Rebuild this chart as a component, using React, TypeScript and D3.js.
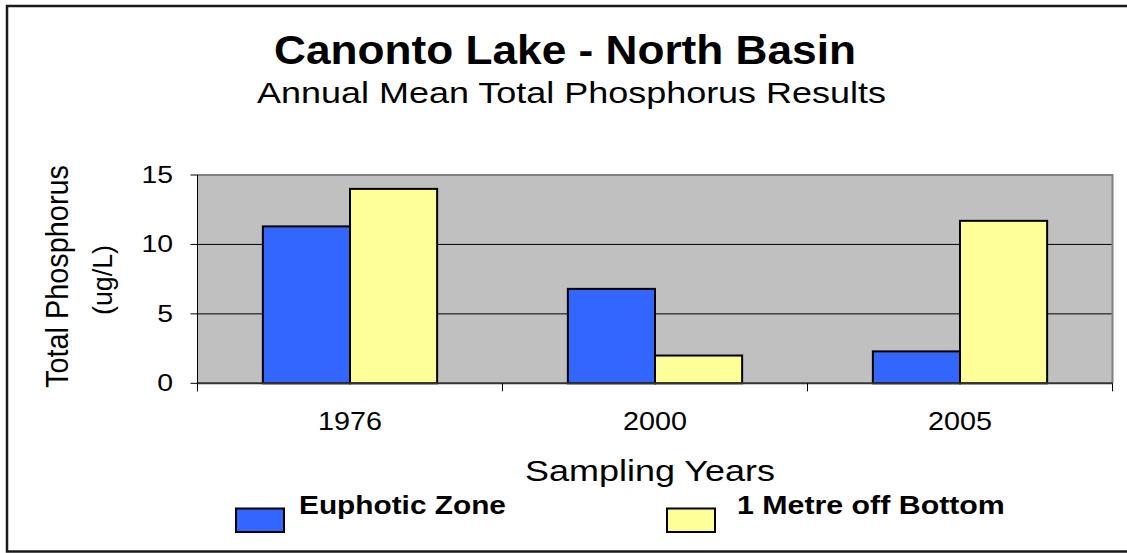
import { useEffect, useRef } from "react";
import * as d3 from "d3";

const years = ["1976", "2000", "2005"];
const euphoticZone = [11.3, 6.8, 2.3];
const metreOffBottom = [14.0, 2.0, 11.7];
const seriesNames = ["Euphotic Zone", "1 Metre off Bottom"];
const seriesColors = ["#3366FF", "#FFFF99"];
const yTicks = [0, 5, 10, 15];

const W = 1127;
const H = 553;
const FONT = "'Liberation Sans', Arial, sans-serif";

export default function App() {
  const svgRef = useRef<SVGSVGElement>(null);

  useEffect(() => {
    const svg = d3.select(svgRef.current);
    svg.selectAll("*").remove();

    const plot = { left: 197.5, right: 1112.5, top: 175, bottom: 383.3 };

    const x = d3
      .scaleBand()
      .domain(years)
      .range([plot.left, plot.right])
      .paddingInner(0.4286)
      .paddingOuter(0.2143);

    const xSeries = d3
      .scaleBand()
      .domain(seriesNames)
      .range([0, x.bandwidth()]);

    const y = d3.scaleLinear().domain([0, 15]).range([plot.bottom, plot.top]);

    // text is widened horizontally to the measured width, like the stretched original
    const label = (
      str: string,
      tx: number,
      ty: number,
      size: number,
      width: number,
      opts: { anchor?: string; bold?: boolean; rotate?: boolean } = {}
    ) => {
      const g = svg.append("g");
      const t = g
        .append("text")
        .attr("font-family", FONT)
        .attr("font-size", size)
        .attr("font-weight", opts.bold ? "bold" : "normal")
        .attr("fill", "#000")
        .attr("text-anchor", opts.anchor || "middle")
        .text(str);
      const natural = (t.node() as SVGTextElement).getComputedTextLength() || width;
      const s = width / natural;
      g.attr(
        "transform",
        `translate(${tx},${ty})${opts.rotate ? " rotate(-90)" : ""} scale(${s},1)`
      );
      return g;
    };

    // outer chart frame
    svg
      .append("rect")
      .attr("x", 7)
      .attr("y", 6)
      .attr("width", W + 20)
      .attr("height", 545.5)
      .attr("fill", "#fff")
      .attr("stroke", "#1a1a1a")
      .attr("stroke-width", 2.5);

    // plot area
    svg
      .append("rect")
      .attr("x", plot.left)
      .attr("y", plot.top)
      .attr("width", plot.right - plot.left)
      .attr("height", plot.bottom - plot.top)
      .attr("fill", "#C0C0C0");

    // gridlines
    svg
      .selectAll(".grid")
      .data(yTicks.filter((d) => d > 0 && d < 15))
      .enter()
      .append("line")
      .attr("x1", plot.left)
      .attr("x2", plot.right)
      .attr("y1", (d) => y(d))
      .attr("y2", (d) => y(d))
      .attr("stroke", "#000")
      .attr("stroke-width", 1);

    // top and right border of plot area
    svg
      .append("path")
      .attr("d", `M${plot.left},${plot.top}H${plot.right}V${plot.bottom}`)
      .attr("fill", "none")
      .attr("stroke", "#808080")
      .attr("stroke-width", 2);

    // bars
    const groups = svg
      .selectAll(".year")
      .data(years)
      .enter()
      .append("g")
      .attr("transform", (d) => `translate(${x(d)},0)`);

    groups
      .selectAll("rect")
      .data((d, i) => [
        { name: seriesNames[0], value: euphoticZone[i], color: seriesColors[0] },
        { name: seriesNames[1], value: metreOffBottom[i], color: seriesColors[1] },
      ])
      .enter()
      .append("rect")
      .attr("x", (d) => xSeries(d.name) as number)
      .attr("width", xSeries.bandwidth())
      .attr("y", (d) => y(d.value))
      .attr("height", (d) => y(0) - y(d.value))
      .attr("fill", (d) => d.color)
      .attr("stroke", "#000")
      .attr("stroke-width", 2);

    // axes
    svg
      .append("line")
      .attr("x1", plot.left)
      .attr("x2", plot.right)
      .attr("y1", plot.bottom)
      .attr("y2", plot.bottom)
      .attr("stroke", "#333")
      .attr("stroke-width", 2);
    svg
      .append("line")
      .attr("x1", plot.left)
      .attr("x2", plot.left)
      .attr("y1", plot.top)
      .attr("y2", plot.bottom + 8)
      .attr("stroke", "#000")
      .attr("stroke-width", 1);

    // y ticks
    svg
      .selectAll(".ytick")
      .data(yTicks)
      .enter()
      .append("line")
      .attr("x1", plot.left - 7)
      .attr("x2", plot.left)
      .attr("y1", (d) => y(d))
      .attr("y2", (d) => y(d))
      .attr("stroke", "#000");
    yTicks.forEach((d) => {
      label(String(d), 173, y(d) + 8, 23, 15.8 * String(d).length, { anchor: "end" });
    });

    // x ticks at band edges
    const edges = years.map((d) => (x(d) as number) - (x.step() * x.paddingInner()) / 2);
    edges.push(plot.right);
    svg
      .selectAll(".xtick")
      .data(edges)
      .enter()
      .append("line")
      .attr("x1", (d) => d)
      .attr("x2", (d) => d)
      .attr("y1", plot.bottom)
      .attr("y2", plot.bottom + 8)
      .attr("stroke", "#000");
    years.forEach((d) => {
      label(d, (x(d) as number) + x.bandwidth() / 2, 430, 25, 64);
    });

    // titles
    label("Canonto Lake - North Basin", 565, 64, 40, 582, { bold: true });
    label("Annual Mean Total Phosphorus Results", 571.5, 103, 30, 629);
    label("Sampling Years", 650, 481, 30, 250);
    label("Total Phosphorus", 68, 276.5, 30.5, 223, { rotate: true });
    label("(ug/L)", 112, 280, 28.5, 70, { rotate: true });

    // legend
    const legendX = [236, 667];
    const legendTextX = [299, 737];
    const legendTextW = [207, 268];
    seriesNames.forEach((name, i) => {
      svg
        .append("rect")
        .attr("x", legendX[i])
        .attr("y", 508.5)
        .attr("width", 48)
        .attr("height", 23.5)
        .attr("fill", seriesColors[i])
        .attr("stroke", "#000")
        .attr("stroke-width", 2);
      label(name, legendTextX[i], 514, 25, legendTextW[i], { anchor: "start", bold: true });
    });
  }, []);

  return (
    <div style={{ position: "absolute", left: 0, top: 0 }}>
      <svg ref={svgRef} width={W} height={H} style={{ display: "block" }}></svg>
    </div>
  );
}
